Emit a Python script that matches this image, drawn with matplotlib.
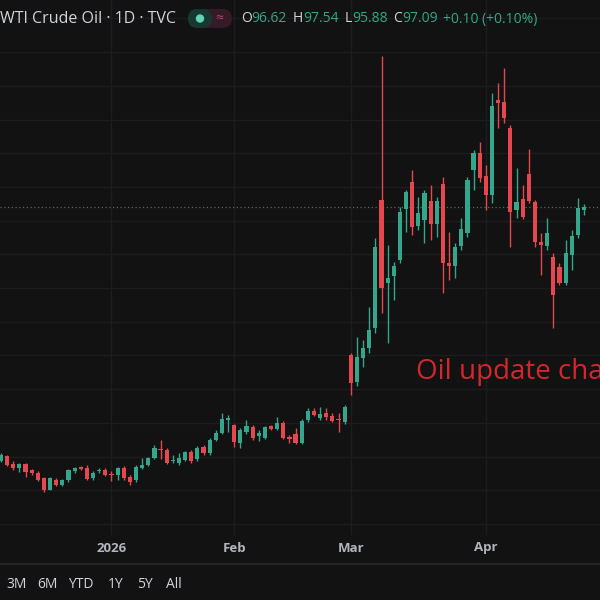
import numpy as np
import pandas as pd
import matplotlib.pyplot as plt
from matplotlib.patches import FancyBboxPatch, Circle

plt.rcParams['font.family'] = ['Open Sans', 'DejaVu Sans']

# Datas (pregão diário, sem feriados dos EUA)
holidays = ["2025-12-25", "2026-01-01", "2026-01-19", "2026-02-16", "2026-04-03"]
dates = pd.bdate_range("2025-12-05", "2026-04-24", freq="C", holidays=holidays)

opens = [59.4, 60.1, 58.9, 58.3, 58.9, 58.0, 57.6, 56.8, 55.1, 56.6,
         55.8, 56.5, 57.8, 58.4, 58.3, 56.8, 57.9, 58.0, 57.4, 57.3,
         58.3, 57.0, 56.5, 58.3, 58.8, 59.8, 61.2, 61.0, 59.3, 59.0,
         59.5, 60.7, 59.6, 61.4, 60.5, 62.5, 63.5, 65.5, 64.7, 62.0,
         63.6, 64.4, 63.0, 62.8, 64.5, 64.1, 65.0, 62.9, 63.3, 62.0,
         65.4, 66.8, 65.8, 66.4, 66.0, 65.6, 65.1, 75.1, 71.1, 74.6,
         76.1, 79.1, 98.1, 85.8, 86.8, 89.2, 96.7, 100.7, 94.2, 95.1,
         97.9, 94.5, 100.4, 88.7, 88.3, 91.2, 93.2, 102.5, 105.0, 101.6,
         98.8, 112.9, 112.6, 108.8, 96.6, 98.2, 101.9, 97.8, 91.8, 91.2,
         89.6, 88.1, 85.8, 89.9, 92.9, 96.62]
highs = [60.5, 60.3, 59.3, 59.0, 59.1, 58.2, 57.8, 57.0, 57.0, 56.9,
         56.7, 58.2, 58.5, 58.6, 58.8, 57.9, 58.3, 58.3, 57.8, 58.5,
         58.6, 57.2, 58.7, 59.8, 60.0, 61.7, 62.5, 61.3, 60.2, 60.5,
         60.9, 61.0, 61.5, 61.7, 62.7, 63.9, 66.5, 66.2, 64.9, 64.2,
         65.4, 64.7, 64.0, 64.6, 64.7, 65.9, 65.3, 63.2, 64.2, 65.6,
         67.2, 67.2, 67.3, 67.2, 66.5, 66.5, 67.7, 75.4, 77.7, 77.3,
         82.2, 92.4, 119.4, 91.4, 88.9, 97.0, 99.6, 102.5, 98.5, 99.6,
         100.3, 98.5, 101.5, 93.3, 91.7, 95.4, 101.5, 105.5, 106.7, 103.3,
         113.9, 115.4, 117.7, 109.2, 102.8, 100.3, 105.6, 98.1, 93.2, 95.4,
         90.2, 88.7, 92.1, 93.6, 98.4, 97.54]
lows = [59.2, 58.6, 58.0, 57.7, 57.0, 57.3, 56.4, 54.8, 55.0, 55.6,
        55.6, 56.3, 57.6, 58.0, 56.5, 56.5, 57.5, 57.1, 56.4, 56.6,
        56.6, 55.8, 56.3, 58.1, 58.6, 59.6, 59.6, 58.9, 59.0, 58.7,
        59.3, 59.1, 59.4, 60.3, 60.2, 62.3, 63.3, 63.7, 61.4, 61.3,
        63.4, 62.5, 62.3, 62.6, 63.9, 63.9, 62.6, 62.0, 61.8, 61.8,
        65.2, 66.0, 65.5, 65.5, 65.1, 63.7, 64.9, 69.1, 70.5, 73.3,
        75.4, 78.3, 81.3, 76.9, 83.2, 88.7, 93.3, 92.9, 93.6, 91.7,
        92.1, 92.6, 84.3, 86.2, 86.5, 90.7, 92.6, 99.6, 100.7, 96.6,
        97.6, 108.8, 109.5, 91.1, 95.4, 95.2, 97.6, 91.1, 86.9, 90.7,
        79.1, 85.5, 85.5, 87.7, 92.4, 95.88]
closes = [60.2, 58.8, 58.3, 58.9, 57.7, 57.5, 56.6, 55.1, 56.8, 55.8,
          56.5, 58.0, 58.3, 58.2, 56.7, 57.6, 58.0, 57.3, 57.2, 58.3,
          56.8, 56.3, 58.5, 58.8, 59.8, 61.3, 61.0, 59.1, 59.4, 59.8,
          60.7, 59.4, 61.3, 60.5, 62.5, 63.5, 65.6, 65.8, 62.2, 63.9,
          64.5, 62.8, 63.5, 64.4, 64.1, 65.0, 62.8, 62.6, 62.0, 65.3,
          66.8, 66.2, 66.3, 65.9, 65.3, 65.4, 67.4, 70.9, 74.8, 76.1,
          78.8, 91.1, 85.0, 86.5, 88.3, 96.3, 99.3, 94.1, 96.1, 99.1,
          94.5, 97.9, 88.7, 88.3, 91.1, 93.8, 101.0, 105.0, 101.3, 98.8,
          112.0, 112.4, 110.2, 96.3, 97.8, 95.5, 97.9, 91.8, 91.4, 93.2,
          84.0, 85.8, 90.2, 92.7, 96.9, 97.09]

bg = '#121212'
grid_c = '#1d1d1d'
up_c = '#35a68b'
down_c = '#e4474e'
txt_c = '#d1d4dc'
axis_txt = '#b2b5be'

o = np.array(opens)
h = np.array(highs)
l = np.array(lows)
c = np.array(closes)
x = np.arange(len(dates))
cores = np.where(c >= o, up_c, down_c)

fig = plt.figure(figsize=(6, 6), dpi=100, facecolor=bg)
ax = fig.add_axes([0, 65 / 600, 1, 535 / 600])
ax.set_facecolor(bg)

# grade
for p in range(50, 130, 5):
    ax.axhline(p, color=grid_c, lw=1, zorder=0)
novo_mes = [i for i in range(1, len(dates)) if dates[i].month != dates[i - 1].month]
for i in novo_mes:
    ax.axvline(i, color=grid_c, lw=1, zorder=0)

# velas
ax.vlines(x, l, h, colors=cores, lw=1, zorder=2)
corpo = np.maximum(np.abs(c - o), 0.15)
ax.bar(x, corpo, bottom=np.minimum(o, c), width=0.68, color=cores, lw=0, zorder=3)

# linha do último preço
ax.axhline(c[-1], color='#4f6b66', lw=0.9, ls=(0, (1, 2)), zorder=1)

ax.set_xlim(-0.16, 97.6)
ax.set_ylim(48.37, 127.74)
ax.set_xticks([])
ax.set_yticks([])
for s in ax.spines.values():
    s.set_visible(False)

# texto vermelho (cortado na borda, como na imagem)
ax.text(67.7, 72.6, 'Oil update chart', color='#d4262d', fontsize=20,
        ha='left', va='center', zorder=5, fontweight='medium')

# eixo de tempo
for i in novo_mes:
    rotulo = '2026' if dates[i].month == 1 else dates[i].strftime('%b')
    xf = (1 + 6.14 * i) / 600
    fig.text(xf, 1 - 548 / 600, rotulo, color=axis_txt, fontsize=9.5,
             ha='center', va='center', fontweight='bold')
fig.add_artist(plt.Line2D([0, 1], [1 - 564 / 600] * 2, color='#2a2a2a', lw=1.2))

botoes = ['3M', '6M', 'YTD', '1Y', '5Y', 'All']
bx = [6, 37, 68, 108, 137, 166]
for b, xp in zip(botoes, bx):
    fig.text(xp / 600, 1 - 585 / 600, b, color=txt_c, fontsize=10,
             ha='left', va='center')

# cabeçalho
fig.text(0, 1 - 19 / 600, 'WTI Crude Oil · 1D · TVC', color=txt_c,
         fontsize=11.5, ha='left', va='center')
fig.add_artist(FancyBboxPatch((188 / 600, 1 - 28 / 600), 44 / 600, 19 / 600,
                              boxstyle='round,pad=0,rounding_size=0.016',
                              fc='#351b26', ec='none'))
fig.add_artist(FancyBboxPatch((188 / 600, 1 - 28 / 600), 24 / 600, 19 / 600,
                              boxstyle='round,pad=0,rounding_size=0.016',
                              fc='#173830', ec='none'))
fig.add_artist(Circle((200 / 600, 1 - 18.5 / 600), 4.2 / 600, fc='#5fd3b3', ec='none'))
fig.text(219 / 600, 1 - 18.5 / 600, '≈', color='#c2427a', fontsize=10,
         ha='center', va='center')

# valores OHLC encadeados
partes = [('O', txt_c, 0), ('96.62', up_c, 6), ('H', txt_c, 0),
          ('97.54', up_c, 6), ('L', txt_c, 0), ('95.88', up_c, 6),
          ('C', txt_c, 0), ('97.09', up_c, 5), ('+0.10 (+0.10%)', up_c, 0)]
rend = fig.canvas.get_renderer()
xp = 241
for t, cor, gap in partes:
    tx = fig.text(xp / 600, 1 - 19 / 600, t, color=cor, fontsize=10,
                  ha='left', va='center')
    bb = tx.get_window_extent(renderer=rend)
    xp = bb.x1 + gap

fig.savefig('out.png', dpi=100, facecolor=bg)
